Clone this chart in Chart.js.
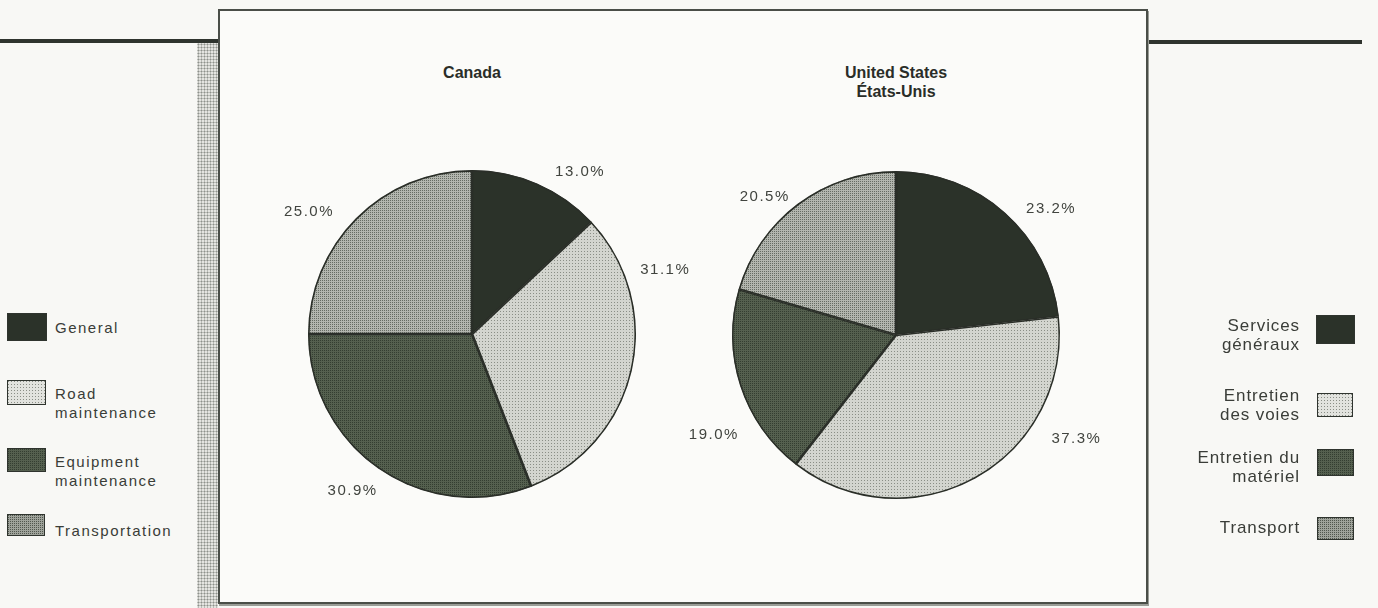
<!DOCTYPE html>
<html><head><meta charset="utf-8">
<script src="https://cdn.jsdelivr.net/npm/chart.js@4.4.1/dist/chart.umd.min.js"></script>
<style>
html,body{margin:0;padding:0;width:1378px;height:608px;overflow:hidden;background:#f8f8f5;font-family:"Liberation Sans",Arial,Helvetica,sans-serif;color:#3a3d38;}
.abs{position:absolute;}
#rule1{left:0;top:39px;width:220px;height:4px;background:#2f342e;}
#rule2{left:1147px;top:40px;width:215px;height:4px;background:#2f342e;}
#shadowL{left:197px;top:43px;width:21px;height:565px;background-color:#e4e4e0;background-image:radial-gradient(#8e918b 0.9px,transparent 1.1px);background-size:3px 3px;}
#frame{left:218px;top:9px;width:926px;height:591px;border:2px solid #4a4e48;background:#fbfbf9;box-shadow:1px 2px 0 #9a9d97;}
.title{font-weight:bold;font-size:16px;text-align:center;color:#2a2d28;line-height:19px;width:300px;}
.leg{font-size:15px;letter-spacing:1.5px;line-height:19px;color:#3a3d38;}
.legR{font-size:17px;letter-spacing:0.9px;line-height:19px;text-align:right;color:#3a3d38;width:200px;}
canvas.sw{position:absolute;border:1.5px solid #2f342e;box-sizing:border-box;}
</style></head>
<body>
<div class="abs" id="rule1"></div>
<div class="abs" id="rule2"></div>
<div class="abs" id="shadowL"></div>
<div class="abs" id="frame"></div>
<div class="abs title" id="t1" style="left:322px;top:63px;"></div>
<div class="abs title" id="t2" style="left:746px;top:63px;"></div>
<canvas id="cCanada" class="abs" width="460" height="400" style="left:242px;top:134px;"></canvas>
<canvas id="cUS" class="abs" width="460" height="400" style="left:666px;top:135px;"></canvas>
<div id="legends"></div>
<script>
// ---- data ----
const categoriesEn = [['General'], ['Road', 'maintenance'], ['Equipment', 'maintenance'], ['Transportation']];
const categoriesFr = [['Services', 'généraux'], ['Entretien', 'des voies'], ['Entretien du', 'matériel'], ['Transport']];
const canadaValues = [13.0, 31.1, 30.9, 25.0];
const usValues = [23.2, 37.3, 19.0, 20.5];
const canadaTitle = ['Canada'];
const usTitle = ['United States', 'États-Unis'];

// ---- styles ----
function pattern(bg, dot, step, size) {
  const c = document.createElement('canvas');
  c.width = c.height = step;
  const g = c.getContext('2d');
  g.fillStyle = bg; g.fillRect(0, 0, step, step);
  if (dot) { g.fillStyle = dot; g.fillRect(0, 0, size, size); }
  return document.createElement('canvas').getContext('2d').createPattern(c, 'repeat');
}
const fills = [
  pattern('#2b3229', null, 2, 1),
  pattern('#d3d5cf', '#8a8e86', 3, 1),
  pattern('#55604f', '#343e31', 2, 1),
  pattern('#b3b6af', '#666c63', 2, 1)
];
const swatchFills = [
  pattern('#2b3229', null, 2, 1),
  pattern('#e2e3de', '#8a8e86', 3, 1),
  pattern('#55604f', '#343e31', 2, 1),
  pattern('#9fa39b', '#51574e', 2, 1)
];

document.getElementById('t1').innerHTML = canadaTitle.join('<br>');
document.getElementById('t2').innerHTML = usTitle.join('<br>');

const pctLabels = {
  id: 'pctLabels',
  afterDatasetsDraw(chart, args, opts) {
    const ctx = chart.ctx;
    const meta = chart.getDatasetMeta(0);
    const data = chart.data.datasets[0].data;
    ctx.save();
    ctx.font = '15px "Liberation Sans", Arial, sans-serif';
    ctx.fillStyle = '#41443f';
    ctx.textBaseline = 'middle';
    try { ctx.letterSpacing = '1.5px'; } catch (e) {}
    meta.data.forEach((arc, i) => {
      const p = arc.getProps(['x', 'y', 'startAngle', 'endAngle', 'outerRadius'], true);
      const a = p.startAngle + (p.endAngle - p.startAngle) * opts.along[i];
      const r = p.outerRadius + opts.gap[i];
      ctx.textAlign = Math.cos(a) >= 0 ? 'left' : 'right';
      ctx.fillText(data[i].toFixed(1) + '%', p.x + Math.cos(a) * r, p.y + Math.sin(a) * r);
    });
    ctx.restore();
  }
};

function makePie(id, labels, values, along, gap) {
  return new Chart(document.getElementById(id), {
    type: 'pie',
    data: { labels: labels, datasets: [{ data: values, backgroundColor: fills, borderColor: '#2a2e28', borderWidth: 1.3, borderAlign: 'inner' }] },
    options: {
      responsive: false, animation: false, devicePixelRatio: 1,
      layout: { padding: 36 },
      plugins: { legend: { display: false }, tooltip: { enabled: false }, title: { display: false },
        pctLabels: { along: along, gap: gap } }
    },
    plugins: [pctLabels]
  });
}
makePie('cCanada', categoriesEn, canadaValues, [0.58, 0.20, 0.47, 0.46], [18, 16, 19, 20]);
makePie('cUS', categoriesFr, usValues, [0.55, 0.30, 0.29, 0.49], [17, 23, 22, 10]);

// ---- legends ----
const legendBox = document.getElementById('legends');
const leftTops = [318, 384, 452, 521];
const leftSw = [[7, 313, 38, 26], [7, 380, 37, 23], [7, 448, 37, 22], [7, 514, 36, 20]];
const rightTops = [316, 386, 448, 518];
const rightSw = [[1316, 315, 37, 27], [1317, 393, 34, 22], [1317, 449, 35, 25], [1317, 517, 35, 21]];
function swatch(s, i) {
  const c = document.createElement('canvas');
  c.className = 'sw'; c.width = s[2]; c.height = s[3];
  c.style.left = s[0] + 'px'; c.style.top = s[1] + 'px';
  const g = c.getContext('2d'); g.fillStyle = swatchFills[i]; g.fillRect(0, 0, s[2], s[3]);
  legendBox.appendChild(c);
}
categoriesEn.forEach((lines, i) => {
  swatch(leftSw[i], i);
  const d = document.createElement('div');
  d.className = 'abs leg'; d.style.left = '55px'; d.style.top = leftTops[i] + 'px';
  d.innerHTML = lines.join('<br>');
  legendBox.appendChild(d);
});
categoriesFr.forEach((lines, i) => {
  swatch(rightSw[i], i);
  const d = document.createElement('div');
  d.className = 'abs legR'; d.style.left = '1100px'; d.style.top = rightTops[i] + 'px';
  d.innerHTML = lines.join('<br>');
  legendBox.appendChild(d);
});
</script>
</body></html>
